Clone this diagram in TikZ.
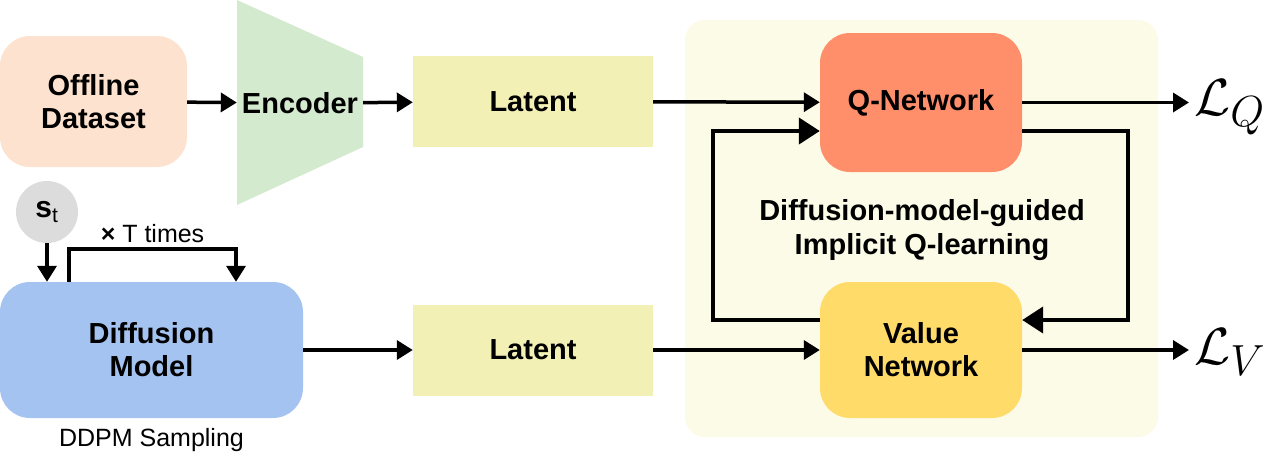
\documentclass[tikz,border=0pt]{standalone}
\usepackage{fontspec}
\setmainfont{Liberation Sans}
\usepackage{tikz}
\usetikzlibrary{calc,positioning,arrows.meta}
\definecolor{datafill}{RGB}{253,227,207}
\definecolor{encfill}{RGB}{212,234,207}
\definecolor{latfill}{RGB}{242,240,180}
\definecolor{qfill}{RGB}{255,142,107}
\definecolor{vfill}{RGB}{255,219,106}
\definecolor{difffill}{RGB}{164,195,241}
\definecolor{iqlfill}{RGB}{252,251,231}
\definecolor{stfill}{RGB}{220,220,220}
% loss symbols: math fonts stop at 24.88pt, so scale up
\newcommand{\lossof}[1]{\scalebox{2.1}{$\mathcal{L}_{#1}$}}

\begin{document}
\begin{tikzpicture}[x=1pt, y=-1pt,
  lbl/.style={font=\bfseries\fontsize{29}{33}\selectfont, align=center, inner sep=0pt},
  roundbox/.style={lbl, rounded corners=30pt, minimum width=#1},
  latbox/.style={lbl, fill=latfill, minimum width=240pt, minimum height=91pt},
  flow/.style={-{Triangle[length=16pt, width=19pt]}, line width=3.5pt},
  loopflow/.style={-{Triangle[length=21pt, width=26pt]}, line width=4.2pt},
  loss/.style={inner sep=0pt, anchor=base west, font=\fontsize{24.88}{30}\selectfont},
  small/.style={font=\fontsize{25}{28}\selectfont, inner sep=0pt}]
% Pixel grid of the target: x to the right, y downwards, 1pt = 1px.
\useasboundingbox (0,0) rectangle (1266,458);
% IQL panel behind the two networks
\fill[iqlfill, rounded corners=20pt] (685,20) rectangle (1158,437);
% Encoder is a trapezium path; the node only carries the label
\fill[encfill] (237,0) -- (363,57) -- (363,147) -- (237,205) -- cycle;
% Top row
\node[roundbox=187pt, fill=datafill, minimum height=131pt] (data) at (93.5,101.5) {Offline\\Dataset};
\node[lbl, minimum width=126pt, minimum height=90pt] (enc) at (300,103) {Encoder};
\node[latbox] (lat1) at (533,101.5) {Latent};
\node[roundbox=202pt, fill=qfill, minimum height=139pt] (qnet) at (921,102.5) {Q-Network};
\node[loss] (lq) at (1194,115) {\lossof{Q}};
% Bottom row
\node[circle, fill=stfill, minimum size=62pt, inner sep=0pt, font=\bfseries\fontsize{30}{30}\selectfont] (st) at (47,212) {s$_\mathrm{t}$};
\node[roundbox=303pt, fill=difffill, minimum height=136pt] (diff) at (151.5,350) {Diffusion\\Model};
\node[small, below=10pt of diff] (ddpm) {DDPM Sampling};
\node[latbox] (lat2) at (533,350) {Latent};
\node[roundbox=202pt, fill=vfill, minimum height=136pt] (vnet) at (921,350) {Value\\Network};
\node[loss] (lv) at (1194,364) {\lossof{V}};
\node[lbl, font=\bfseries\fontsize{29}{34}\selectfont] (iql) at (922,230) {Diffusion-model-guided\\Implicit Q-learning};
% Connectors
\draw[flow] (data) -- (enc);
\draw[flow] (enc) -- (lat1);
\draw[flow] (lat1) -- (qnet);
\draw[flow] (qnet.east) -- ([xshift=-5pt]qnet.east -| lq.west);
\draw[flow] (st) -- (st |- diff.north);
\draw[flow] ([xshift=-82.5pt]diff.north) -- ++(0,-33) -| ([xshift=84.5pt]diff.north)
  node[small, pos=0.25, above=4pt] (ttimes) {{\bfseries ×} T times};
\draw[flow] (diff) -- (lat2);
\draw[flow] (lat2) -- (vnet);
\draw[flow] (vnet.east) -- ([xshift=-5pt]vnet.east -| lv.west);
% Q / V update loop
\draw[loopflow] ([yshift=30pt]vnet.west) -- ++(-107,0) |- ([yshift=-28.5pt]qnet.west);
\draw[loopflow] ([yshift=-28.5pt]qnet.east) -- ++(106,0) |- ([yshift=30pt]vnet.east);
\end{tikzpicture}
\end{document}
